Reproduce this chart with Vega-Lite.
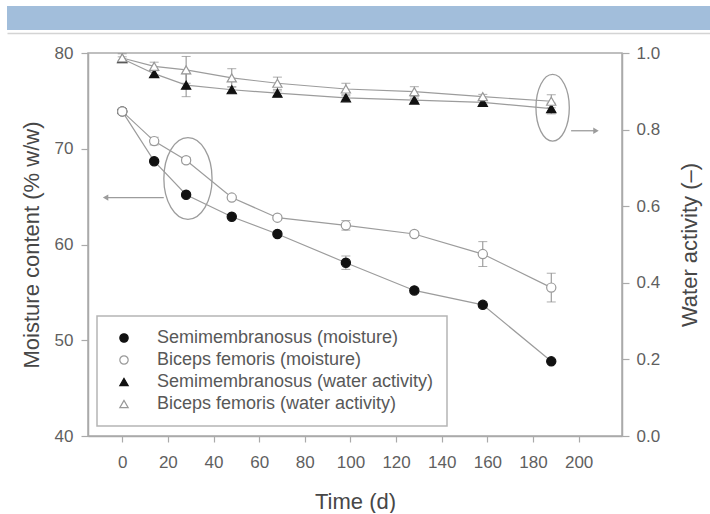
{
  "$schema": "https://vega.github.io/schema/vega-lite/v6.json",
  "padding": {"left": 7, "top": 6, "right": 0, "bottom": 0},
  "background": "white",
  "spacing": 10,
  "columns": 1,
  "align": "none",
  "config": {
    "font": "Liberation Sans",
    "view": {"stroke": null},
    "axis": {
      "labelFont": "Liberation Sans", "titleFont": "Liberation Sans", "grid": false,
      "domainColor": "#aaaaaa", "domainWidth": 1.5, "tickColor": "#aaaaaa", "tickWidth": 1.2,
      "labelColor": "#5f5f5f", "titleColor": "#474747", "titleFontWeight": "normal",
      "labelFontSize": 17, "titleFontSize": 22
    },
    "legend": {
      "orient": "none", "legendX": 9, "legendY": 310, "direction": "vertical",
      "padding": 13, "strokeColor": "#b5b5b5", "fillColor": "#ffffff", "strokeWidth": 1.5,
      "labelFont": "Liberation Sans", "labelFontSize": 18, "labelColor": "#585858", "labelLimit": 400,
      "symbolSize": 70, "rowPadding": 4, "symbolOffset": 5, "labelOffset": 24, "symbolStrokeWidth": 1.2
    }
  },
  "datasets": {
    "banner": [{"start": 0, "end": 1}],
    "moisture": [
      {"day": 0, "series": "Semimembranosus (moisture)", "value": 73.9, "err": 0.2},
      {"day": 14, "series": "Semimembranosus (moisture)", "value": 68.7, "err": 0.2},
      {"day": 28, "series": "Semimembranosus (moisture)", "value": 65.2, "err": 0.2},
      {"day": 48, "series": "Semimembranosus (moisture)", "value": 62.9, "err": 0.2},
      {"day": 68, "series": "Semimembranosus (moisture)", "value": 61.1, "err": 0.2},
      {"day": 98, "series": "Semimembranosus (moisture)", "value": 58.1, "err": 0.7},
      {"day": 128, "series": "Semimembranosus (moisture)", "value": 55.2, "err": 0.2},
      {"day": 158, "series": "Semimembranosus (moisture)", "value": 53.7, "err": 0.3},
      {"day": 188, "series": "Semimembranosus (moisture)", "value": 47.8, "err": 0.2},
      {"day": 0, "series": "Biceps femoris (moisture)", "value": 73.9, "err": 0.3},
      {"day": 14, "series": "Biceps femoris (moisture)", "value": 70.8, "err": 0.4},
      {"day": 28, "series": "Biceps femoris (moisture)", "value": 68.8, "err": 0.3},
      {"day": 48, "series": "Biceps femoris (moisture)", "value": 64.9, "err": 0.2},
      {"day": 68, "series": "Biceps femoris (moisture)", "value": 62.8, "err": 0.2},
      {"day": 98, "series": "Biceps femoris (moisture)", "value": 62.0, "err": 0.5},
      {"day": 128, "series": "Biceps femoris (moisture)", "value": 61.1, "err": 0.2},
      {"day": 158, "series": "Biceps femoris (moisture)", "value": 59.0, "err": 1.3},
      {"day": 188, "series": "Biceps femoris (moisture)", "value": 55.5, "err": 1.5}
    ],
    "aw": [
      {"day": 0, "series": "Semimembranosus (water activity)", "value": 0.985, "err": 0.005},
      {"day": 14, "series": "Semimembranosus (water activity)", "value": 0.946, "err": 0.008},
      {"day": 28, "series": "Semimembranosus (water activity)", "value": 0.916, "err": 0.03},
      {"day": 48, "series": "Semimembranosus (water activity)", "value": 0.904, "err": 0.008},
      {"day": 68, "series": "Semimembranosus (water activity)", "value": 0.895, "err": 0.006},
      {"day": 98, "series": "Semimembranosus (water activity)", "value": 0.883, "err": 0.005},
      {"day": 128, "series": "Semimembranosus (water activity)", "value": 0.877, "err": 0.005},
      {"day": 158, "series": "Semimembranosus (water activity)", "value": 0.871, "err": 0.005},
      {"day": 188, "series": "Semimembranosus (water activity)", "value": 0.855, "err": 0.014},
      {"day": 0, "series": "Biceps femoris (water activity)", "value": 0.987, "err": 0.011},
      {"day": 14, "series": "Biceps femoris (water activity)", "value": 0.965, "err": 0.011},
      {"day": 28, "series": "Biceps femoris (water activity)", "value": 0.956, "err": 0.035},
      {"day": 48, "series": "Biceps femoris (water activity)", "value": 0.935, "err": 0.024},
      {"day": 68, "series": "Biceps femoris (water activity)", "value": 0.921, "err": 0.016},
      {"day": 98, "series": "Biceps femoris (water activity)", "value": 0.906, "err": 0.015},
      {"day": 128, "series": "Biceps femoris (water activity)", "value": 0.899, "err": 0.013},
      {"day": 158, "series": "Biceps femoris (water activity)", "value": 0.886, "err": 0.006},
      {"day": 188, "series": "Biceps femoris (water activity)", "value": 0.874, "err": 0.017}
    ],
    "ellipseM": [{"day": 28.8, "value": 66.9}],
    "ellipseA": [{"day": 188.6, "value": 0.857}],
    "arrowM": [{"day": -7.3, "day2": 18.2, "value": 64.9}],
    "arrowA": [{"day": 196.7, "day2": 207.6, "value": 0.797}]
  },
  "concat": [
    {
      "width": 622,
      "height": 24,
      "data": {"name": "banner"},
      "mark": {"type": "rect", "color": "#a2bedb"},
      "encoding": {
        "x": {"field": "start", "type": "quantitative", "scale": {"domain": [0, 1], "range": [-81, 622], "nice": false, "zero": false},
              "axis": {"domain": true, "domainColor": "#d4d4d4", "domainWidth": 1.5, "ticks": false, "labels": false, "title": null, "offset": 3}},
        "x2": {"field": "end"}
      }
    },
    {
      "width": 534,
      "height": 383,
      "view": {"stroke": "#aaaaaa", "strokeWidth": 1.5},
      "resolve": {"scale": {"y": "independent"}},
      "layer": [
        {
          "layer": [
            {
              "data": {"name": "moisture"},
              "mark": {"type": "line", "color": "#9c9c9c", "strokeWidth": 1.2},
              "encoding": {
                "x": {"field": "day", "type": "quantitative", "title": "Time (d)", "scale": {"domain": [-15, 219], "nice": false, "zero": false},
                      "axis": {"values": [0, 20, 40, 60, 80, 100, 120, 140, 160, 180, 200], "tickSize": 6, "labelPadding": 12, "titlePadding": 21, "labelFlush": false}},
                "y": {"field": "value", "type": "quantitative", "title": ["", "Moisture content (% w/w)"], "scale": {"domain": [40, 80], "nice": false, "zero": false},
                      "axis": {"orient": "left", "values": [40, 50, 60, 70, 80], "titleLineHeight": 11, "tickSize": 7, "labelPadding": 8, "titlePadding": 11, "titleAngle": 270, "titleBaseline": "bottom"}},
                "detail": {"field": "series"}
              }
            },
            {
              "data": {"name": "moisture"},
              "mark": {"type": "errorbar", "color": "#8a8a8a", "ticks": true, "size": 9, "thickness": 1},
              "encoding": {
                "x": {"field": "day", "type": "quantitative", "title": "Time (d)"},
                "y": {"field": "value", "type": "quantitative", "title": ["", "Moisture content (% w/w)"]},
                "yError": {"field": "err"}
              }
            },
            {
              "data": {"name": "moisture"},
              "mark": {"type": "point", "filled": true, "size": 85, "opacity": 1, "strokeWidth": 1.2},
              "encoding": {
                "x": {"field": "day", "type": "quantitative", "title": "Time (d)"},
                "y": {"field": "value", "type": "quantitative", "title": ["", "Moisture content (% w/w)"]},
                "shape": {"field": "series", "type": "nominal", "title": null,
                          "scale": {"domain": ["Semimembranosus (moisture)", "Biceps femoris (moisture)", "Semimembranosus (water activity)", "Biceps femoris (water activity)"], "range": ["circle", "circle", "triangle-up", "triangle-up"]}},
                "fill": {"field": "series", "type": "nominal", "title": null,
                         "scale": {"domain": ["Semimembranosus (moisture)", "Biceps femoris (moisture)", "Semimembranosus (water activity)", "Biceps femoris (water activity)"], "range": ["#111111", "#ffffff", "#111111", "#ffffff"]}},
                "stroke": {"field": "series", "type": "nominal", "title": null,
                           "scale": {"domain": ["Semimembranosus (moisture)", "Biceps femoris (moisture)", "Semimembranosus (water activity)", "Biceps femoris (water activity)"], "range": ["#111111", "#999999", "#111111", "#999999"]}}
              }
            },
            {
              "data": {"name": "ellipseM"},
              "mark": {"type": "point", "shape": "M0,-1A0.59,1,0,1,1,0,1A0.59,1,0,1,1,0,-1Z", "size": 6675, "filled": false, "stroke": "#9c9c9c", "strokeWidth": 1.3, "opacity": 1},
              "encoding": {
                "x": {"field": "day", "type": "quantitative", "title": "Time (d)"},
                "y": {"field": "value", "type": "quantitative", "title": ["", "Moisture content (% w/w)"]}
              }
            },
            {
              "data": {"name": "arrowM"},
              "mark": {"type": "rule", "color": "#9c9c9c", "strokeWidth": 1.3},
              "encoding": {
                "x": {"field": "day", "type": "quantitative", "title": "Time (d)"},
                "x2": {"field": "day2"},
                "y": {"field": "value", "type": "quantitative", "title": ["", "Moisture content (% w/w)"]}
              }
            },
            {
              "data": {"name": "arrowM"},
              "mark": {"type": "point", "shape": "triangle-left", "filled": true, "color": "#9c9c9c", "size": 40, "opacity": 1},
              "encoding": {
                "x": {"field": "day", "type": "quantitative", "title": "Time (d)"},
                "y": {"field": "value", "type": "quantitative", "title": ["", "Moisture content (% w/w)"]}
              }
            }
          ]
        },
        {
          "layer": [
            {
              "data": {"name": "aw"},
              "mark": {"type": "line", "color": "#9c9c9c", "strokeWidth": 1.2},
              "encoding": {
                "x": {"field": "day", "type": "quantitative", "title": "Time (d)"},
                "y": {"field": "value", "type": "quantitative", "title": "Water activity (–)", "scale": {"domain": [0, 1], "nice": false, "zero": false},
                      "axis": {"orient": "right", "values": [0, 0.2, 0.4, 0.6, 0.8, 1], "format": ".1f", "tickSize": 7, "labelPadding": 7, "titlePadding": 20, "titleAngle": 270, "titleBaseline": "top"}},
                "detail": {"field": "series"}
              }
            },
            {
              "data": {"name": "aw"},
              "mark": {"type": "errorbar", "color": "#8a8a8a", "ticks": true, "size": 9, "thickness": 1},
              "encoding": {
                "x": {"field": "day", "type": "quantitative", "title": "Time (d)"},
                "y": {"field": "value", "type": "quantitative", "title": "Water activity (–)"},
                "yError": {"field": "err"}
              }
            },
            {
              "data": {"name": "aw"},
              "mark": {"type": "point", "filled": true, "size": 85, "opacity": 1, "strokeWidth": 1.2},
              "encoding": {
                "x": {"field": "day", "type": "quantitative", "title": "Time (d)"},
                "y": {"field": "value", "type": "quantitative", "title": "Water activity (–)"},
                "shape": {"field": "series", "type": "nominal", "title": null,
                          "scale": {"domain": ["Semimembranosus (moisture)", "Biceps femoris (moisture)", "Semimembranosus (water activity)", "Biceps femoris (water activity)"], "range": ["circle", "circle", "triangle-up", "triangle-up"]}},
                "fill": {"field": "series", "type": "nominal", "title": null,
                         "scale": {"domain": ["Semimembranosus (moisture)", "Biceps femoris (moisture)", "Semimembranosus (water activity)", "Biceps femoris (water activity)"], "range": ["#111111", "#ffffff", "#111111", "#ffffff"]}},
                "stroke": {"field": "series", "type": "nominal", "title": null,
                           "scale": {"domain": ["Semimembranosus (moisture)", "Biceps femoris (moisture)", "Semimembranosus (water activity)", "Biceps femoris (water activity)"], "range": ["#111111", "#999999", "#111111", "#999999"]}}
              }
            },
            {
              "data": {"name": "ellipseA"},
              "mark": {"type": "point", "shape": "M0,-1A0.5,1,0,1,1,0,1A0.5,1,0,1,1,0,-1Z", "size": 4449, "filled": false, "stroke": "#9c9c9c", "strokeWidth": 1.3, "opacity": 1},
              "encoding": {
                "x": {"field": "day", "type": "quantitative", "title": "Time (d)"},
                "y": {"field": "value", "type": "quantitative", "title": "Water activity (–)"}
              }
            },
            {
              "data": {"name": "arrowA"},
              "mark": {"type": "rule", "color": "#9c9c9c", "strokeWidth": 1.3},
              "encoding": {
                "x": {"field": "day", "type": "quantitative", "title": "Time (d)"},
                "x2": {"field": "day2"},
                "y": {"field": "value", "type": "quantitative", "title": "Water activity (–)"}
              }
            },
            {
              "data": {"name": "arrowA"},
              "mark": {"type": "point", "shape": "triangle-right", "filled": true, "color": "#9c9c9c", "size": 40, "opacity": 1},
              "encoding": {
                "x": {"field": "day2", "type": "quantitative", "title": "Time (d)"},
                "y": {"field": "value", "type": "quantitative", "title": "Water activity (–)"}
              }
            }
          ]
        }
      ]
    }
  ]
}
